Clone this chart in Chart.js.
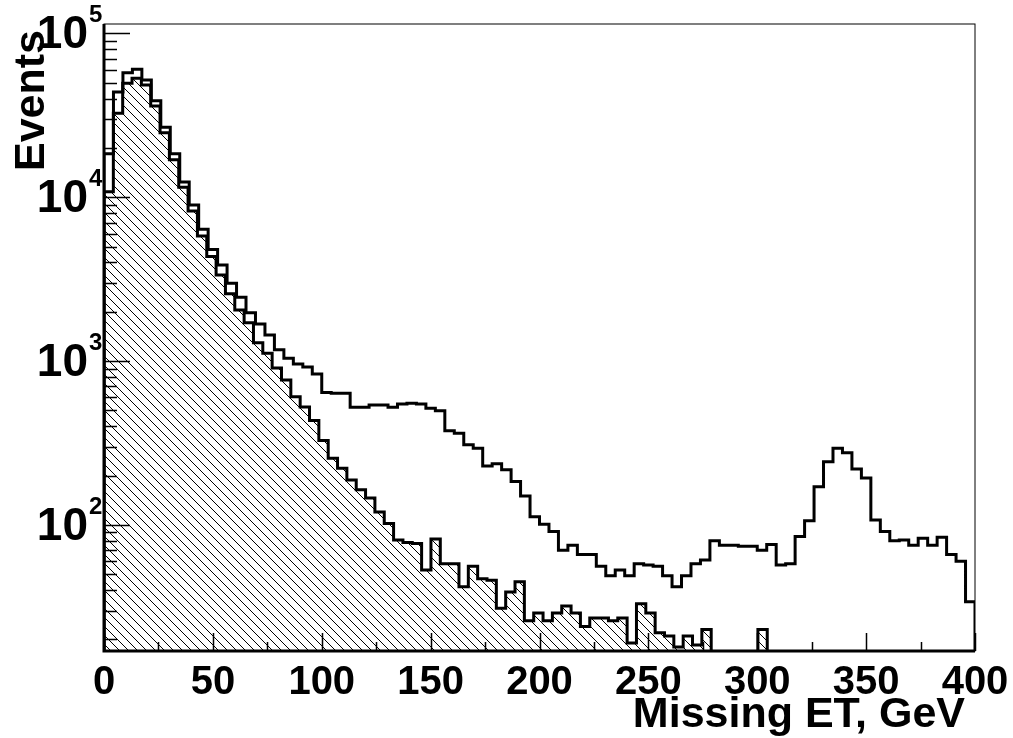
<!DOCTYPE html>
<html>
<head>
<meta charset="utf-8">
<script src="https://cdn.jsdelivr.net/npm/chart.js@4.4.1/dist/chart.umd.min.js"></script>
<style>
  html, body { margin: 0; padding: 0; background: #fff; }
  #wrap { width: 1013px; height: 738px; }
</style>
</head>
<body>
<div id="wrap"><canvas id="chart"></canvas></div>
<script>
// Histogram ranges
const xMin = 0;
const xMax = 400;
const yMin = 17;
const yMax = 114000;

// total (signal + background) histogram: 92 bins over 0-400 GeV
const totalBinWidth = 400 / 92;
const totalCounts = [
  18400, 43900, 57500, 60300, 51900, 38800, 26700, 18400, 12400, 8960,
  6370, 4800, 3860, 2980, 2450, 1970, 1680, 1440, 1170, 1040,
  960, 920, 834, 642, 636, 636, 523, 523, 540, 540,
  523, 547, 553, 547, 515, 498, 376, 363, 308, 294,
  229, 236, 217, 184, 150, 112, 101, 91, 70, 75,
  66, 66, 56, 49, 53, 49, 58, 57, 56, 49,
  42, 49, 58, 61, 80, 75, 75, 74, 74, 70,
  76, 57, 58, 85, 106, 171, 243, 294, 276, 219,
  193, 107, 91, 80, 81, 75, 83, 75, 84, 66,
  60, 34
];

// background histogram (hatched), slightly narrower bins
const bgBinWidth = 4.29;
const bgCounts = [
  10800, 32500, 49500, 53100, 48400, 36000, 24700, 16900, 11500, 8240,
  5800, 4340, 3350, 2570, 2050, 1715, 1295, 1116, 908, 767,
  606, 525, 433, 327, 255, 222, 188, 164, 146, 120,
  102, 81, 78, 77, 53, 82, 58, 58, 42, 56,
  47, 46, 31, 39, 45, 26, 29, 26, 29, 32,
  29, 24, 27, 27, 26, 27, 19, 33, 29, 22,
  21, 18, 21, 18.5, 23, 0, 0, 0, 0, 0,
  23
];

const xTickValues = [0, 50, 100, 150, 200, 250, 300, 350, 400];
const xTickLabels = ['0', '50', '100', '150', '200', '250', '300', '350', '400'];
const yTickValues = [100, 1000, 10000, 100000];
const yTickExponents = ['2', '3', '4', '5'];

const xTitle = 'Missing ET, GeV';
const yTitle = 'Events';

// empty bins sit below the axis on a log scale
const FLOOR = 1;

// turn bin contents into step points (left edge of every bin)
function histPoints(counts, width) {
  const pts = [{ x: 0, y: FLOOR }];
  counts.forEach((c, i) => {
    pts.push({ x: i * width, y: c > 0 ? c : FLOOR });
  });
  const end = counts.length * width;
  const last = counts[counts.length - 1];
  pts.push({ x: end, y: last > 0 ? last : FLOOR });
  pts.push({ x: end, y: FLOOR });
  return pts;
}

function hatchPattern(ctx) {
  const size = 9;
  const c = document.createElement('canvas');
  c.width = size;
  c.height = size;
  const g = c.getContext('2d');
  g.fillStyle = '#000';
  for (let k = 0; k < size; k++) {
    g.fillRect(k, k, 1, 1);
  }
  return ctx.createPattern(c, 'repeat');
}

const FONT = '"Liberation Sans", Arial, Helvetica, sans-serif';

// ROOT style frame: ticks inside, labels and titles drawn by hand
const rootAxes = {
  id: 'rootAxes',
  afterDatasetsDraw(chart) {
    const { ctx, chartArea: a, scales: { x, y } } = chart;
    ctx.save();
    ctx.strokeStyle = '#000';
    ctx.fillStyle = '#000';

    ctx.lineWidth = 1;
    ctx.strokeRect(a.left, a.top, a.right - a.left, a.bottom - a.top);

    ctx.lineWidth = 3;
    ctx.beginPath();
    ctx.moveTo(a.left, a.top);
    ctx.lineTo(a.left, a.bottom);
    ctx.lineTo(a.right, a.bottom);
    ctx.stroke();

    // x ticks: major every 50, minor every 25
    ctx.lineWidth = 1.5;
    ctx.beginPath();
    for (let v = xMin; v <= xMax; v += 25) {
      const px = Math.round(x.getPixelForValue(v)) + 0.5;
      const len = v % 50 === 0 ? 18 : 9;
      ctx.moveTo(px, a.bottom);
      ctx.lineTo(px, a.bottom - len);
    }
    // y ticks: decades major, 2..9 minor
    for (let d = 10; d <= 100000; d *= 10) {
      for (let m = 1; m <= 9; m++) {
        const v = d * m;
        if (v < yMin || v > yMax) continue;
        const py = Math.round(y.getPixelForValue(v)) + 0.5;
        const len = m === 1 ? 26 : 13;
        ctx.moveTo(a.left, py);
        ctx.lineTo(a.left + len, py);
      }
    }
    ctx.stroke();

    // x tick labels
    ctx.font = 'bold 40px ' + FONT;
    ctx.textAlign = 'center';
    ctx.textBaseline = 'top';
    xTickValues.forEach((v, i) => {
      ctx.fillText(xTickLabels[i], x.getPixelForValue(v), a.bottom + 12);
    });

    // y tick labels 10^n
    yTickValues.forEach((v, i) => {
      const py = y.getPixelForValue(v);
      ctx.font = 'bold 46px ' + FONT;
      ctx.textAlign = 'right';
      ctx.textBaseline = 'middle';
      ctx.fillText('10', a.left - 16, py + 2);
      ctx.font = 'bold 24px ' + FONT;
      ctx.textAlign = 'left';
      ctx.textBaseline = 'alphabetic';
      ctx.fillText(yTickExponents[i], a.left - 15, py - 11);
    });

    // axis titles
    ctx.font = 'bold 43px ' + FONT;
    ctx.textAlign = 'right';
    ctx.textBaseline = 'alphabetic';
    ctx.fillText(xTitle, a.right - 10, 727);

    ctx.translate(44, a.top + 6);
    ctx.rotate(-Math.PI / 2);
    ctx.fillText(yTitle, 0, 0);
    ctx.restore();
  }
};

const canvas = document.getElementById('chart');
const ctx = canvas.getContext('2d');

new Chart(canvas, {
  type: 'line',
  data: {
    datasets: [
      {
        label: 'Total',
        data: histPoints(totalCounts, totalBinWidth),
        stepped: true,
        borderColor: '#000',
        borderWidth: 3,
        pointRadius: 0,
        fill: false,
      },
      {
        label: 'Background',
        data: histPoints(bgCounts, bgBinWidth),
        stepped: true,
        borderColor: '#000',
        borderWidth: 3,
        pointRadius: 0,
        backgroundColor: hatchPattern(ctx),
        fill: 'start',
      },
    ],
  },
  options: {
    responsive: true,
    maintainAspectRatio: false,
    animation: false,
    layout: {
      padding: { left: 104, right: 38, top: 24, bottom: 87 },
    },
    plugins: {
      legend: { display: false },
      tooltip: { enabled: false },
    },
    scales: {
      x: {
        type: 'linear',
        display: false,
        min: xMin,
        max: xMax,
      },
      y: {
        type: 'logarithmic',
        display: false,
        min: yMin,
        max: yMax,
      },
    },
  },
  plugins: [rootAxes],
});
</script>
</body>
</html>
